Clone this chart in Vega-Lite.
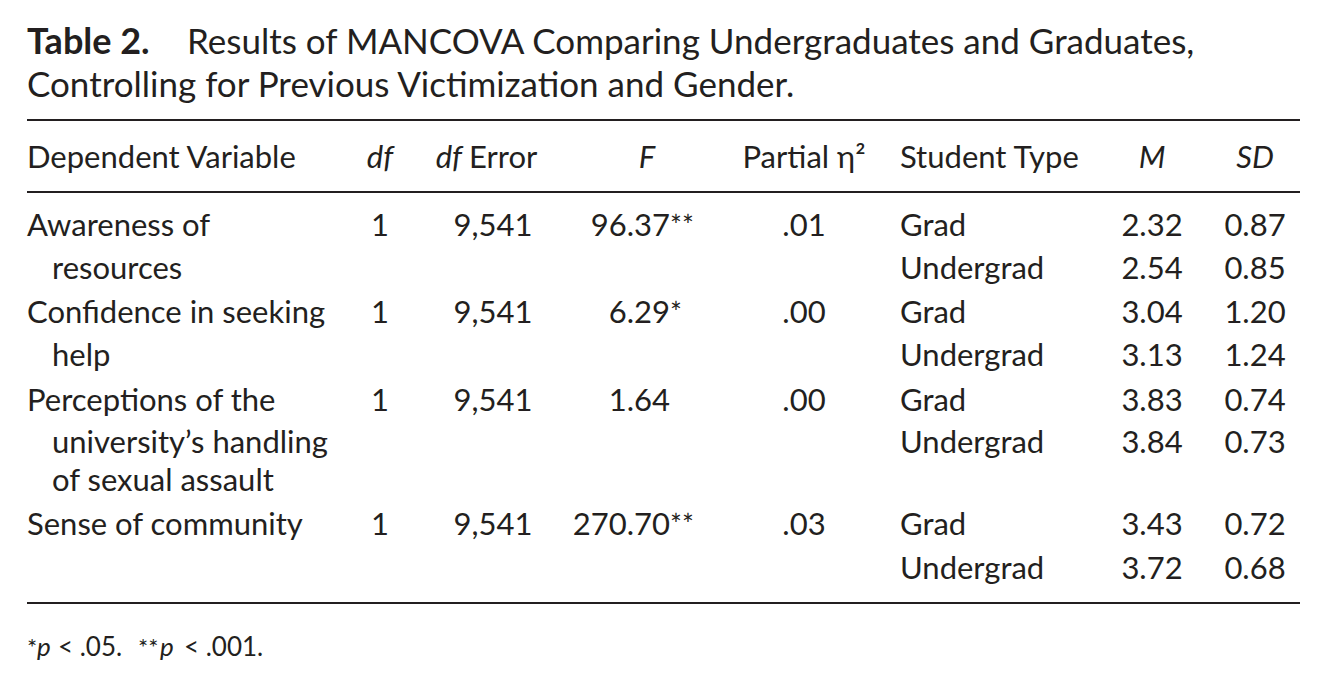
{
  "$schema": "https://vega.github.io/schema/vega-lite/v6.json",
  "autosize": {"type": "fit", "contains": "padding"},
  "width": 1326,
  "height": 685,
  "padding": 0,
  "background": "white",
  "config": {
    "view": {"stroke": null},
    "text": {"font": "Lato", "fontSize": 31, "fill": "#231f20", "baseline": "alphabetic"}
  },
  "encoding": {
    "x": {
      "field": "col",
      "type": "quantitative",
      "axis": null,
      "scale": {
        "domain": [0, 1, 2, 3, 4, 5, 6, 7, 8, 9, 10, 11, 12, 13, 14, 15, 16, 17, 18],
        "range": [27, 37, 58, 52, 138, 160, 184, 187, 380, 462, 469, 493, 647, 670, 804, 900, 1152, 1255, 1300],
        "zero": false,
        "nice": false
      }
    },
    "y": {
      "field": "line",
      "type": "quantitative",
      "axis": null,
      "scale": {
        "domain": [0, 1, 2, 3, 4, 5, 6, 7, 8, 9, 10, 11, 12, 13, 14, 15],
        "range": [54, 97, 120, 168, 192, 236, 279, 323, 366, 411, 453, 491, 535, 579, 603, 656],
        "zero": false,
        "nice": false
      }
    }
  },
  "layer": [
    {
      "data": {"values": [{"line": 0, "col": 0, "text": "Table 2."}]},
      "mark": {"type": "text", "align": "left", "fontWeight": "bold", "fontSize": 36},
      "encoding": {"text": {"field": "text"}}
    },
    {
      "data": {
        "values": [
          {"line": 0, "col": 7, "text": "Results of MANCOVA Comparing Undergraduates and Graduates,"},
          {"line": 1, "col": 0, "text": "Controlling for Previous Victimization and Gender."}
        ]
      },
      "mark": {"type": "text", "align": "left", "fontSize": 35},
      "encoding": {"text": {"field": "text"}}
    },
    {
      "data": {
        "values": [
          {"line": 2, "start": 0, "end": 18},
          {"line": 4, "start": 0, "end": 18},
          {"line": 14, "start": 0, "end": 18}
        ]
      },
      "mark": {"type": "rule", "stroke": "#231f20", "strokeWidth": 2},
      "encoding": {
        "x": {"field": "start", "type": "quantitative"},
        "x2": {"field": "end"}
      }
    },
    {
      "data": {
        "values": [
          {"line": 3, "col": 0, "text": "Dependent Variable"},
          {"line": 3, "col": 10, "text": "Error"},
          {"line": 3, "col": 15, "text": "Student Type"}
        ]
      },
      "mark": {"type": "text", "align": "left"},
      "encoding": {"text": {"field": "text"}}
    },
    {
      "data": {"values": [{"line": 3, "col": 14, "text": "Partial \u03b7\u00b2"}]},
      "mark": {"type": "text", "align": "center"},
      "encoding": {"text": {"field": "text"}}
    },
    {
      "data": {
        "values": [
          {"line": 3, "col": 8, "text": "df"},
          {"line": 3, "col": 12, "text": "F"},
          {"line": 3, "col": 16, "text": "M"},
          {"line": 3, "col": 17, "text": "SD"}
        ]
      },
      "mark": {"type": "text", "align": "center", "fontStyle": "italic"},
      "encoding": {"text": {"field": "text"}}
    },
    {
      "data": {"values": [{"line": 3, "col": 9, "text": "df"}]},
      "mark": {"type": "text", "align": "right", "fontStyle": "italic"},
      "encoding": {"text": {"field": "text"}}
    },
    {
      "data": {
        "values": [
          {"line": 5, "col": 0, "text": "Awareness of"},
          {"line": 6, "col": 3, "text": "resources"},
          {"line": 7, "col": 0, "text": "Confidence in seeking"},
          {"line": 8, "col": 3, "text": "help"},
          {"line": 9, "col": 0, "text": "Perceptions of the"},
          {"line": 10, "col": 3, "text": "university\u2019s handling"},
          {"line": 11, "col": 3, "text": "of sexual assault"},
          {"line": 12, "col": 0, "text": "Sense of community"},
          {"line": 5, "col": 15, "text": "Grad"},
          {"line": 6, "col": 15, "text": "Undergrad"},
          {"line": 7, "col": 15, "text": "Grad"},
          {"line": 8, "col": 15, "text": "Undergrad"},
          {"line": 9, "col": 15, "text": "Grad"},
          {"line": 10, "col": 15, "text": "Undergrad"},
          {"line": 12, "col": 15, "text": "Grad"},
          {"line": 13, "col": 15, "text": "Undergrad"}
        ]
      },
      "mark": {"type": "text", "align": "left"},
      "encoding": {"text": {"field": "text"}}
    },
    {
      "data": {
        "values": [
          {"line": 5, "col": 8, "text": "1"},
          {"line": 7, "col": 8, "text": "1"},
          {"line": 9, "col": 8, "text": "1"},
          {"line": 12, "col": 8, "text": "1"},
          {"line": 5, "col": 11, "text": "9,541"},
          {"line": 7, "col": 11, "text": "9,541"},
          {"line": 9, "col": 11, "text": "9,541"},
          {"line": 12, "col": 11, "text": "9,541"},
          {"line": 5, "col": 14, "text": ".01"},
          {"line": 7, "col": 14, "text": ".00"},
          {"line": 9, "col": 14, "text": ".00"},
          {"line": 12, "col": 14, "text": ".03"},
          {"line": 5, "col": 16, "text": "2.32"},
          {"line": 6, "col": 16, "text": "2.54"},
          {"line": 7, "col": 16, "text": "3.04"},
          {"line": 8, "col": 16, "text": "3.13"},
          {"line": 9, "col": 16, "text": "3.83"},
          {"line": 10, "col": 16, "text": "3.84"},
          {"line": 12, "col": 16, "text": "3.43"},
          {"line": 13, "col": 16, "text": "3.72"},
          {"line": 5, "col": 17, "text": "0.87"},
          {"line": 6, "col": 17, "text": "0.85"},
          {"line": 7, "col": 17, "text": "1.20"},
          {"line": 8, "col": 17, "text": "1.24"},
          {"line": 9, "col": 17, "text": "0.74"},
          {"line": 10, "col": 17, "text": "0.73"},
          {"line": 12, "col": 17, "text": "0.72"},
          {"line": 13, "col": 17, "text": "0.68"}
        ]
      },
      "mark": {"type": "text", "align": "center"},
      "encoding": {"text": {"field": "text"}}
    },
    {
      "data": {
        "values": [
          {"line": 5, "col": 13, "text": "96.37"},
          {"line": 7, "col": 13, "text": "6.29"},
          {"line": 9, "col": 13, "text": "1.64"},
          {"line": 12, "col": 13, "text": "270.70"}
        ]
      },
      "mark": {"type": "text", "align": "right"},
      "encoding": {"text": {"field": "text"}}
    },
    {
      "data": {
        "values": [
          {"line": 5, "col": 13, "text": "**"},
          {"line": 7, "col": 13, "text": "*"},
          {"line": 12, "col": 13, "text": "**"}
        ]
      },
      "mark": {"type": "text", "align": "left", "fontSize": 28},
      "encoding": {"text": {"field": "text"}}
    },
    {
      "data": {
        "values": [
          {"line": 15, "col": 0, "text": "*"},
          {"line": 15, "col": 4, "text": "**"}
        ]
      },
      "mark": {"type": "text", "align": "left", "fontSize": 24},
      "encoding": {"text": {"field": "text"}}
    },
    {
      "data": {
        "values": [
          {"line": 15, "col": 2, "text": "< .05."},
          {"line": 15, "col": 6, "text": "< .001."}
        ]
      },
      "mark": {"type": "text", "align": "left", "fontSize": 26},
      "encoding": {"text": {"field": "text"}}
    },
    {
      "data": {
        "values": [
          {"line": 15, "col": 1, "text": "p"},
          {"line": 15, "col": 5, "text": "p"}
        ]
      },
      "mark": {"type": "text", "align": "left", "fontSize": 26, "fontStyle": "italic"},
      "encoding": {"text": {"field": "text"}}
    }
  ]
}
